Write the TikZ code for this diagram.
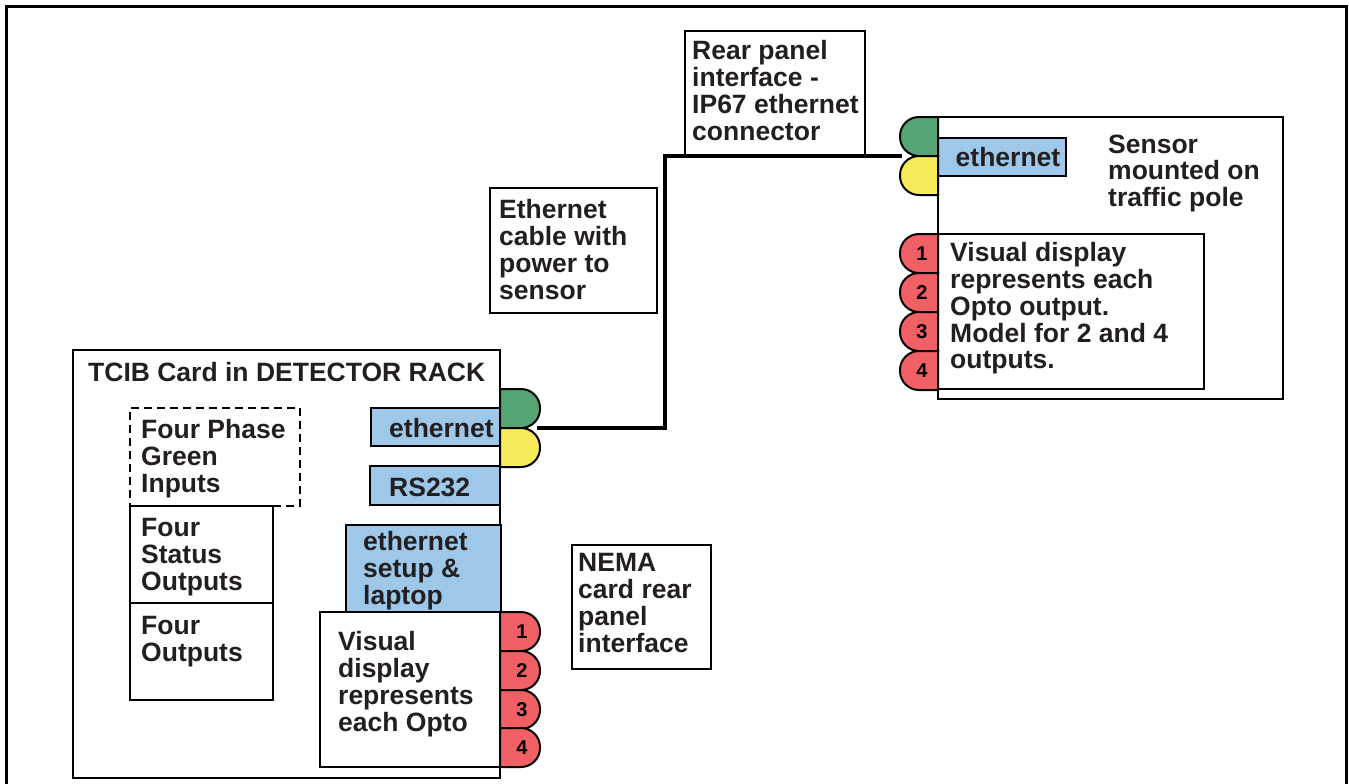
\documentclass[tikz,border=0pt]{standalone}
\usepackage{fontspec}
\setmainfont{Liberation Sans}
\definecolor{tabgreen}{RGB}{84,165,115}
\definecolor{tabyellow}{RGB}{246,236,90}
\definecolor{ethblue}{RGB}{158,200,233}
\definecolor{tabred}{RGB}{240,96,100}
\definecolor{inkc}{RGB}{35,31,32}
\newcommand{\mainfnt}{\fontsize{26.5}{26.7}\selectfont\bfseries}
\newcommand{\numfnt}{\fontsize{20}{20}\selectfont\bfseries}
\tikzset{
  box/.style={draw=black, line width=2pt, anchor=north west, inner sep=0pt, outer sep=0pt},
  bluebox/.style={box, fill=ethblue},
  lbl/.style={anchor=north west, inner sep=0pt, align=left, font=\mainfnt, text=inkc},
  plain/.style={inner sep=0pt, font=\mainfnt, text=inkc},
  numlbl/.style={inner sep=0pt, font=\numfnt},
  tabline/.style={draw=black, line width=2pt},
  cable/.style={draw=black, line width=3.5pt},
}
% right-rounded tab: colour, top-left corner
\newcommand{\rtab}[2]{\draw[tabline, fill=#1] (#2) [rounded corners=19pt] -- ++(40,0) -- ++(0,39) [sharp corners] -- ++(-40,0) -- cycle;}
% left-rounded tab: colour, top-right corner
\newcommand{\ltab}[2]{\draw[tabline, fill=#1] (#2) [rounded corners=19pt] -- ++(-38,0) -- ++(0,39) [sharp corners] -- ++(38,0) -- cycle;}
\begin{document}
\begin{tikzpicture}[x=1pt,y=-1pt]
\useasboundingbox (0,0) rectangle (1349,784);
% outer frame
\draw[line width=2.5pt] (6.5,800) -- (6.5,6.5) -- (1346.5,6.5) -- (1346.5,800);

% rear panel label
\node[box, minimum width=180pt, minimum height=124pt] (rearbox) at (685,31) {};
\node[lbl] (reartxt) at (692,40.5) {Rear panel\\interface -\\IP67 ethernet\\connector};

% ethernet cable label
\node[box, minimum width=167pt, minimum height=125pt] (cablebox) at (490,188) {};
\node[lbl] (cabletxt) at (499,199.5) {Ethernet\\cable with\\power to\\sensor};

% sensor
\node[box, minimum width=345pt, minimum height=282pt] (sensorbox) at (938,117) {};
\node[lbl] (sensortxt) at (1108,134.5) {Sensor\\mounted on\\traffic pole};
\node[box, minimum width=266pt, minimum height=155pt] (svizbox) at (938,234) {};
\node[lbl] (sviztxt) at (950,242.5) {Visual display\\represents each\\Opto output.\\Model for 2 and 4\\outputs.};
\node[bluebox, minimum width=128pt, minimum height=38pt] (sethbox) at (938,138) {};
\node[plain] (sethtxt) at (1008,157) {ethernet};
\ltab{tabgreen}{938,117}
\ltab{tabyellow}{938,156}
\ltab{tabred}{938,234}
\ltab{tabred}{938,273}
\ltab{tabred}{938,312}
\ltab{tabred}{938,351}
\node[numlbl] (s1) at (922,253.5) {1};
\node[numlbl] (s2) at (922,292.5) {2};
\node[numlbl] (s3) at (922,331.5) {3};
\node[numlbl] (s4) at (922,370.5) {4};
\coordinate (sensorport) at (902,156);

% TCIB card
\node[box, minimum width=427pt, minimum height=428pt] (cardbox) at (73,350) {};
\node[lbl] (cardtxt) at (88,362.5) {TCIB Card in DETECTOR RACK};
\node[box, line width=2.6pt, dash pattern=on 8pt off 5pt, minimum width=170pt, minimum height=98pt] (phasebox) at (130,408) {};
\node[lbl] (phasetxt) at (141,419.5) {Four Phase\\Green\\Inputs};
\node[box, minimum width=143pt, minimum height=97pt] (statusbox) at (130,506) {};
\node[lbl] (statustxt) at (141,518.5) {Four\\Status\\Outputs};
\node[box, minimum width=143pt, minimum height=97pt] (outbox) at (130,603) {};
\node[lbl] (outtxt) at (141,616.5) {Four\\Outputs};

\node[bluebox, minimum width=129pt, minimum height=38pt] (cethbox) at (371,408) {};
\node[plain, anchor=west] (cethtxt) at (389,428) {ethernet};
\node[bluebox, minimum width=130pt, minimum height=39pt] (rsbox) at (370,466) {};
\node[plain, anchor=west] (rstxt) at (389,487) {RS232};
\node[bluebox, minimum width=155pt, minimum height=87pt] (setupbox) at (346,525) {};
\node[lbl] (setuptxt) at (363,531.5) {ethernet\\setup \&\\laptop};
\node[box, fill=white, minimum width=180pt, minimum height=155pt] (cvizbox) at (320,612) {};
\node[lbl] (cviztxt) at (338,631.5) {Visual\\display\\represents\\each Opto};

\rtab{tabgreen}{500,389}
\rtab{tabyellow}{500,428}
\rtab{tabred}{500,612}
\rtab{tabred}{500,651}
\rtab{tabred}{500,690}
\rtab{tabred}{500,728}
\node[numlbl] (c1) at (522,632) {1};
\node[numlbl] (c2) at (522,670.5) {2};
\node[numlbl] (c3) at (522,709.5) {3};
\node[numlbl] (c4) at (522,748) {4};
\coordinate (cardport) at (537,428);

% NEMA label
\node[box, minimum width=139pt, minimum height=124pt] (nemabox) at (572,545) {};
\node[lbl] (nematxt) at (578,553.5) {NEMA\\card rear\\panel\\interface};

% cable
\draw[cable] (cardport) -- (665,428) |- (sensorport);
\end{tikzpicture}
\end{document}
